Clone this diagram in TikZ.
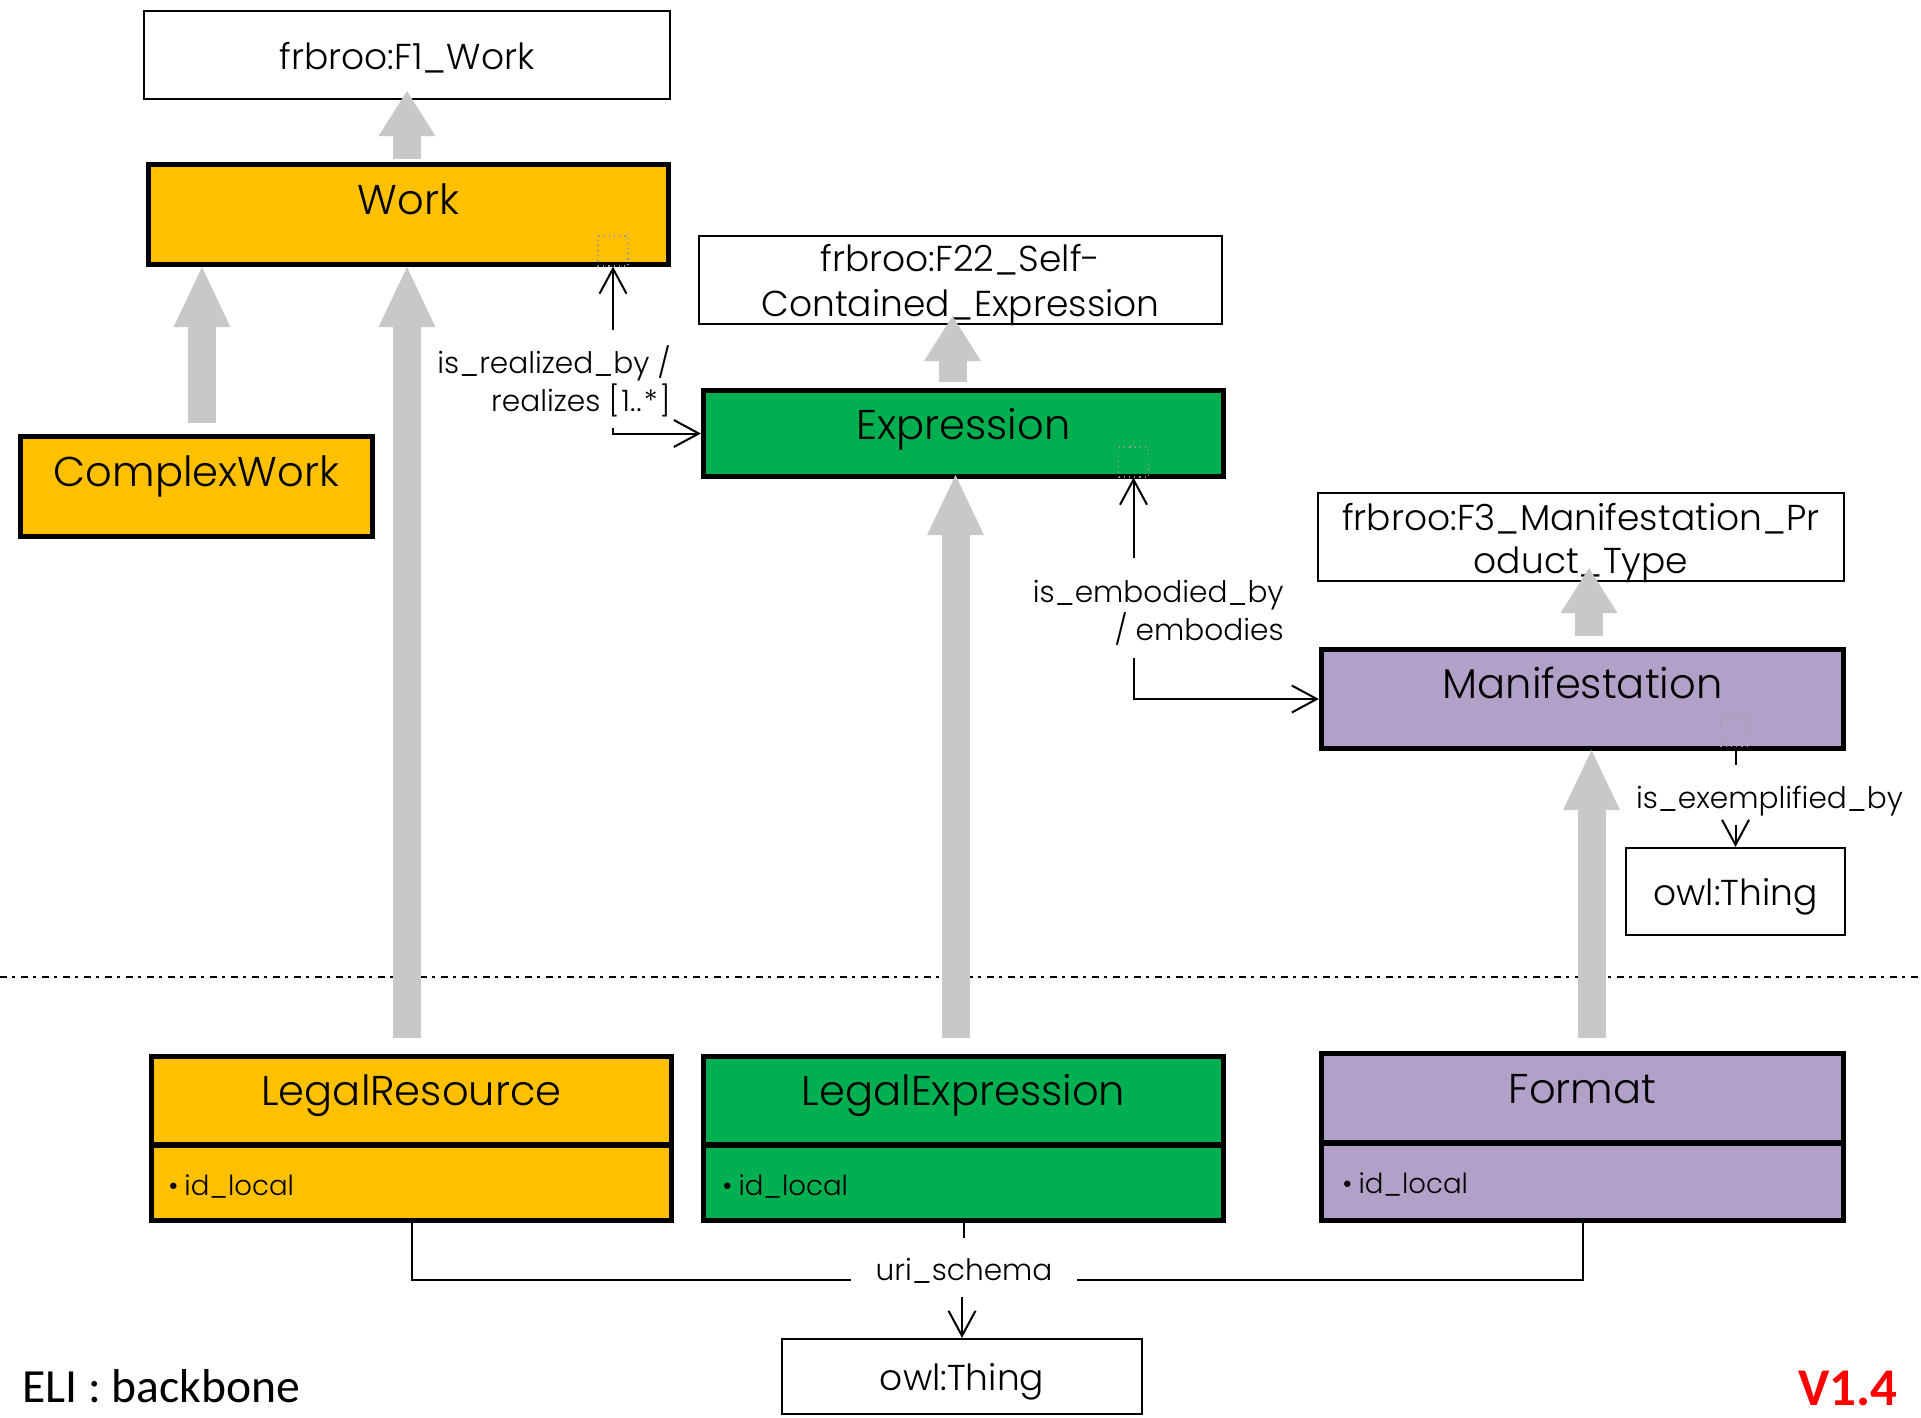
\documentclass[tikz,border=0pt]{standalone}
\usepackage{fontspec}
\setmainfont{Poppins}[UprightFont=* Light]
\newfontfamily\calib{Carlito}
\usetikzlibrary{arrows.meta,calc}
\definecolor{workY}{HTML}{FFC000}
\definecolor{exprG}{HTML}{00B050}
\definecolor{manP}{HTML}{B1A0C7}
\definecolor{genG}{HTML}{C8C8C8}
\definecolor{verR}{HTML}{FF0000}
\begin{document}
\begin{tikzpicture}[x=0.5pt,y=-0.5pt,
  cls/.style={draw=black, line width=2.6pt, inner sep=0pt},
  plain/.style={draw=black, line width=1.1pt, fill=white, inner sep=0pt},
  ttl/.style={font=\fontsize{20.8}{24}\selectfont, anchor=base, inner sep=0pt},
  sub/.style={font=\fontsize{18}{22}\selectfont, anchor=base, inner sep=0pt},
  elab/.style={font=\fontsize{14.8}{19}\selectfont, inner sep=0pt},
  attr/.style={font=\fontsize{13.8}{16}\selectfont, anchor=base west, inner sep=0pt},
  gen/.style={draw=genG, line width=14pt, -{Triangle[width=28.5pt,length=30pt,line width=0pt]}},
  genS/.style={draw=genG, line width=14pt, -{Triangle[width=28.5pt,length=22.5pt,line width=0pt]}},
  assoc/.style={draw=black, line width=1pt},
  oa/.style={-{Straight Barb[length=12.5pt,width=13.5pt]}},
  dotsq/.style={draw=gray!80, dotted, line width=0.6pt, minimum width=15pt, minimum height=15pt, inner sep=0pt},
  sepline/.style={draw=black, line width=1.3pt, dash pattern=on 3.3pt off 2.9pt on 1.4pt off 2.9pt}
]
\useasboundingbox (0,0) rectangle (1921,1418);

% ---------- boxes ----------
\node[plain, minimum width=263pt, minimum height=44pt] (f1) at (407,55) {};
\node[cls, fill=workY, minimum width=260pt, minimum height=50pt] (work) at (408.5,214.5) {};
\node[cls, fill=workY, minimum width=176pt, minimum height=50pt] (cw) at (196.5,486.5) {};
\node[plain, minimum width=261.5pt, minimum height=44pt] (f22) at (960.5,280) {};
\node[cls, fill=exprG, minimum width=260pt, minimum height=43pt] (expr) at (963.5,433.5) {};
\node[plain, minimum width=263pt, minimum height=44pt] (f3) at (1581,537) {};
\node[cls, fill=manP, minimum width=261pt, minimum height=49.5pt] (man) at (1582.5,699) {};
\node[plain, minimum width=109.5pt, minimum height=43.5pt] (owlR) at (1735.5,891.5) {};
\node[cls, fill=workY, minimum width=260pt, minimum height=82pt] (lr) at (411.5,1138.5) {};
\node[cls, fill=exprG, minimum width=260pt, minimum height=82pt] (le) at (963.5,1138.5) {};
\node[cls, fill=manP, minimum width=261pt, minimum height=83.5pt] (fmt) at (1582.5,1137) {};
\node[plain, minimum width=180pt, minimum height=37.5pt] (owlB) at (962,1376.5) {};

% dividers
\coordinate (divA) at (0,1145);
\coordinate (divB) at (0,1143);
\draw[line width=2.6pt] (lr.west |- divA) -- (lr.east |- divA);
\draw[line width=2.6pt] (le.west |- divA) -- (le.east |- divA);
\draw[line width=2.6pt] (fmt.west |- divB) -- (fmt.east |- divB);

% dotted squares
\node[dotsq] (wsq) at (613,251) {};
\node[dotsq] (esq) at (1133.5,462) {};
\node[dotsq] (msq) at (1735.5,731.5) {};

% ---------- texts ----------
\node[ttl] (workT) at (408.5,214) {Work};
\node[ttl] (cwT) at (196.5,486) {ComplexWork};
\node[ttl] (exprT) at (963.5,439) {Expression};
\node[ttl] (manT) at (1582.5,698) {Manifestation};
\node[ttl] (lrT) at (411.5,1105) {LegalResource};
\node[ttl] (leT) at (963.5,1105) {LegalExpression};
\node[ttl] (fmtT) at (1582.5,1103) {Format};

\node[sub] (f1T) at (407,70) {frbroo:F1\_Work};
\node[sub] (f22a) at (960.5,271) {frbroo:F22\_Self-};
\node[sub] (f22b) at (960.5,316) {Contained\_Expression};
\node[sub] (f3a) at (1581,530) {frbroo:F3\_Manifestation\_Pr};
\node[sub] (f3b) at (1581,573) {oduct\_Type};
\node[sub] (owlRT) at (1735.5,905) {owl:Thing};
\node[sub] (owlBT) at (962,1390) {owl:Thing};

\node[attr] (lrA) at (168,1195) {\textbullet\hspace{3pt}id\_local};
\node[attr] (leA) at (722,1195) {\textbullet\hspace{3pt}id\_local};
\node[attr] (fmtA) at (1342,1193) {\textbullet\hspace{3pt}id\_local};

\node[elab, anchor=base east] (rl1) at (671,373) {is\_realized\_by /};
\node[elab, anchor=base east] (rl2) at (671,411) {realizes [\kern1pt 1.\kern0.5pt.\kern1pt *\kern1pt]};
\node[elab, anchor=base east] (em1) at (1284,602) {is\_embodied\_by};
\node[elab, anchor=base east] (em2) at (1284,640) {/ embodies};
\node[elab, anchor=base] (exT) at (1769.5,808) {is\_exemplified\_by};
\node[elab, anchor=base, minimum width=113pt] (uri) at (964,1280) {uri\_schema};

\node[anchor=base west, inner sep=0pt, font=\calib\fontsize{23.8}{27}\selectfont] (eli) at (22,1402) {ELI : backbone};
\node[anchor=base east, inner sep=0pt, font=\calib\bfseries\fontsize{26.5}{30}\selectfont, text=verR] (ver) at (1898,1405) {V1.4};

% ---------- separator ----------
\coordinate (sepL) at (0,977);
\coordinate (sepR) at (1921,977);
\draw[sepline] (sepL) -- (sepR);

% ---------- generalisation arrows ----------
\draw[genS] ($(work.north -| f1.south)+(0,-3)$) -- ($(f1.south)+(0,-9)$);
\draw[gen] ($(cw.north)+(5.5,-11)$) -- ($(cw.north |- work.south)+(5.5,0)$);
\draw[gen] ($(lr.north -| work.south)+(-1.5,-16)$) -- ($(work.south)+(-1.5,0)$);
\draw[genS] ($(expr.north)+(-11,-6)$) -- ($(expr.north |- f22.south)+(-11,-9)$);
\draw[gen] ($(le.north)+(-8,-16)$) -- ($(le.north |- expr.south)+(-8,-4)$);
\draw[genS] ($(man.north)+(6.5,-11)$) -- ($(man.north |- f3.south)+(6.5,-14)$);
\draw[gen] ($(fmt.north)+(9,-13)$) -- ($(fmt.north |- man.south)+(9,-1)$);

% ---------- associations ----------
\coordinate (rlTop) at (613,330);
\coordinate (rlBot) at (613,428);
\draw[assoc, oa] (rlTop) -- (wsq.south);
\draw[assoc, oa] (rlBot) |- (expr.west);

\coordinate (emTop) at (1133.5,558);
\coordinate (emBot) at (1133.5,658);
\draw[assoc, oa] (emTop) -- (esq.south);
\draw[assoc, oa] (emBot) |- (man.west);

\coordinate (exTop) at (1735.5,765);
\coordinate (exBot) at (1735.5,825);
\draw[assoc] (msq.south) -- (exTop);
\draw[assoc, oa] (exBot) -- (owlR.north);

\coordinate (uriTop) at (963.5,1238);
\coordinate (uriBot) at (962,1297);
\draw[assoc] (lr.south) |- (uri.base west);
\draw[assoc] (fmt.south) |- (uri.base east);
\draw[assoc] (le.south) -- (uriTop);
\draw[assoc, oa] (uriBot) -- (owlB.north);
\end{tikzpicture}
\end{document}
